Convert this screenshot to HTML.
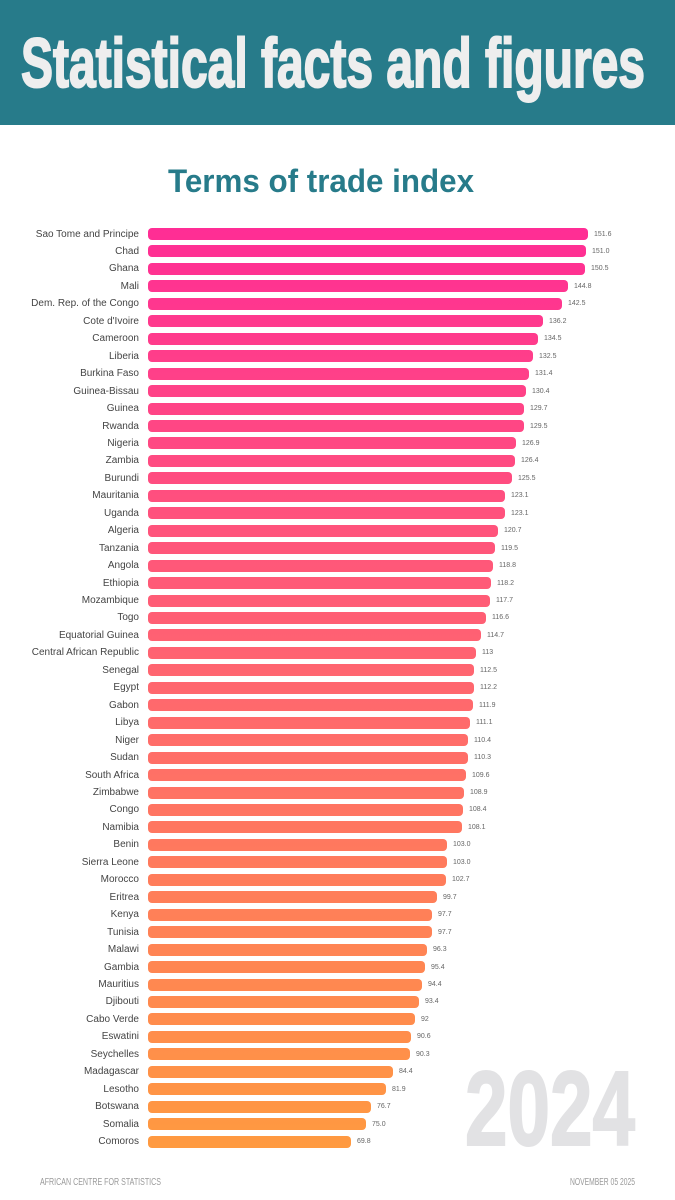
<!DOCTYPE html>
<html><head><meta charset="utf-8"><style>
*{margin:0;padding:0;box-sizing:border-box}
body{width:675px;height:1200px;background:#fff;position:relative;overflow:hidden;font-family:"Liberation Sans",sans-serif}
.hdr{position:absolute;left:0;top:0;width:675px;height:125px;background:#277b8a}
svg.ov{position:absolute;left:0;top:0}
.rows{position:absolute;left:0;top:225.3px}
.r{display:flex;align-items:center;height:17.46px}
.l{width:139px;text-align:right;font-size:10px;color:#444;margin-right:9px;white-space:nowrap}
.b{height:12px;border-radius:4px;background:linear-gradient(to bottom,#ff2d95 228px,#ff6570 670px,#ff9a40 1148px);background-attachment:fixed}
.v{font-size:7px;color:#666;margin-left:6px}
</style></head><body>
<div class="hdr"></div>
<svg class="ov" width="675" height="1200" font-family="Liberation Sans, sans-serif" font-weight="bold">
<text x="21" y="87" font-size="70" fill="#eeeeee" stroke="#eeeeee" stroke-width="2" textLength="624" lengthAdjust="spacingAndGlyphs">Statistical facts and figures</text>
<text x="168" y="192" font-size="32" fill="#277b8a" textLength="306" lengthAdjust="spacingAndGlyphs">Terms of trade index</text>
<text x="465" y="1145" font-size="106" fill="#e2e2e4" stroke="#e2e2e4" stroke-width="2" textLength="170" lengthAdjust="spacingAndGlyphs">2024</text>
<text x="40" y="1185" font-size="10" font-weight="normal" fill="#9a9a9a" textLength="121" lengthAdjust="spacingAndGlyphs">AFRICAN CENTRE FOR STATISTICS</text>
<text x="570" y="1185" font-size="10" font-weight="normal" fill="#9a9a9a" textLength="65" lengthAdjust="spacingAndGlyphs">NOVEMBER 05 2025</text>
</svg>
<div class="rows">
<div class="r"><div class="l">Sao Tome and Principe</div><div class="b" style="width:440px"></div><div class="v">151.6</div></div>
<div class="r"><div class="l">Chad</div><div class="b" style="width:438px"></div><div class="v">151.0</div></div>
<div class="r"><div class="l">Ghana</div><div class="b" style="width:437px"></div><div class="v">150.5</div></div>
<div class="r"><div class="l">Mali</div><div class="b" style="width:420px"></div><div class="v">144.8</div></div>
<div class="r"><div class="l">Dem. Rep. of the Congo</div><div class="b" style="width:414px"></div><div class="v">142.5</div></div>
<div class="r"><div class="l">Cote d'Ivoire</div><div class="b" style="width:395px"></div><div class="v">136.2</div></div>
<div class="r"><div class="l">Cameroon</div><div class="b" style="width:390px"></div><div class="v">134.5</div></div>
<div class="r"><div class="l">Liberia</div><div class="b" style="width:385px"></div><div class="v">132.5</div></div>
<div class="r"><div class="l">Burkina Faso</div><div class="b" style="width:381px"></div><div class="v">131.4</div></div>
<div class="r"><div class="l">Guinea-Bissau</div><div class="b" style="width:378px"></div><div class="v">130.4</div></div>
<div class="r"><div class="l">Guinea</div><div class="b" style="width:376px"></div><div class="v">129.7</div></div>
<div class="r"><div class="l">Rwanda</div><div class="b" style="width:376px"></div><div class="v">129.5</div></div>
<div class="r"><div class="l">Nigeria</div><div class="b" style="width:368px"></div><div class="v">126.9</div></div>
<div class="r"><div class="l">Zambia</div><div class="b" style="width:367px"></div><div class="v">126.4</div></div>
<div class="r"><div class="l">Burundi</div><div class="b" style="width:364px"></div><div class="v">125.5</div></div>
<div class="r"><div class="l">Mauritania</div><div class="b" style="width:357px"></div><div class="v">123.1</div></div>
<div class="r"><div class="l">Uganda</div><div class="b" style="width:357px"></div><div class="v">123.1</div></div>
<div class="r"><div class="l">Algeria</div><div class="b" style="width:350px"></div><div class="v">120.7</div></div>
<div class="r"><div class="l">Tanzania</div><div class="b" style="width:347px"></div><div class="v">119.5</div></div>
<div class="r"><div class="l">Angola</div><div class="b" style="width:345px"></div><div class="v">118.8</div></div>
<div class="r"><div class="l">Ethiopia</div><div class="b" style="width:343px"></div><div class="v">118.2</div></div>
<div class="r"><div class="l">Mozambique</div><div class="b" style="width:342px"></div><div class="v">117.7</div></div>
<div class="r"><div class="l">Togo</div><div class="b" style="width:338px"></div><div class="v">116.6</div></div>
<div class="r"><div class="l">Equatorial Guinea</div><div class="b" style="width:333px"></div><div class="v">114.7</div></div>
<div class="r"><div class="l">Central African Republic</div><div class="b" style="width:328px"></div><div class="v">113</div></div>
<div class="r"><div class="l">Senegal</div><div class="b" style="width:326px"></div><div class="v">112.5</div></div>
<div class="r"><div class="l">Egypt</div><div class="b" style="width:326px"></div><div class="v">112.2</div></div>
<div class="r"><div class="l">Gabon</div><div class="b" style="width:325px"></div><div class="v">111.9</div></div>
<div class="r"><div class="l">Libya</div><div class="b" style="width:322px"></div><div class="v">111.1</div></div>
<div class="r"><div class="l">Niger</div><div class="b" style="width:320px"></div><div class="v">110.4</div></div>
<div class="r"><div class="l">Sudan</div><div class="b" style="width:320px"></div><div class="v">110.3</div></div>
<div class="r"><div class="l">South Africa</div><div class="b" style="width:318px"></div><div class="v">109.6</div></div>
<div class="r"><div class="l">Zimbabwe</div><div class="b" style="width:316px"></div><div class="v">108.9</div></div>
<div class="r"><div class="l">Congo</div><div class="b" style="width:315px"></div><div class="v">108.4</div></div>
<div class="r"><div class="l">Namibia</div><div class="b" style="width:314px"></div><div class="v">108.1</div></div>
<div class="r"><div class="l">Benin</div><div class="b" style="width:299px"></div><div class="v">103.0</div></div>
<div class="r"><div class="l">Sierra Leone</div><div class="b" style="width:299px"></div><div class="v">103.0</div></div>
<div class="r"><div class="l">Morocco</div><div class="b" style="width:298px"></div><div class="v">102.7</div></div>
<div class="r"><div class="l">Eritrea</div><div class="b" style="width:289px"></div><div class="v">99.7</div></div>
<div class="r"><div class="l">Kenya</div><div class="b" style="width:284px"></div><div class="v">97.7</div></div>
<div class="r"><div class="l">Tunisia</div><div class="b" style="width:284px"></div><div class="v">97.7</div></div>
<div class="r"><div class="l">Malawi</div><div class="b" style="width:279px"></div><div class="v">96.3</div></div>
<div class="r"><div class="l">Gambia</div><div class="b" style="width:277px"></div><div class="v">95.4</div></div>
<div class="r"><div class="l">Mauritius</div><div class="b" style="width:274px"></div><div class="v">94.4</div></div>
<div class="r"><div class="l">Djibouti</div><div class="b" style="width:271px"></div><div class="v">93.4</div></div>
<div class="r"><div class="l">Cabo Verde</div><div class="b" style="width:267px"></div><div class="v">92</div></div>
<div class="r"><div class="l">Eswatini</div><div class="b" style="width:263px"></div><div class="v">90.6</div></div>
<div class="r"><div class="l">Seychelles</div><div class="b" style="width:262px"></div><div class="v">90.3</div></div>
<div class="r"><div class="l">Madagascar</div><div class="b" style="width:245px"></div><div class="v">84.4</div></div>
<div class="r"><div class="l">Lesotho</div><div class="b" style="width:238px"></div><div class="v">81.9</div></div>
<div class="r"><div class="l">Botswana</div><div class="b" style="width:223px"></div><div class="v">76.7</div></div>
<div class="r"><div class="l">Somalia</div><div class="b" style="width:218px"></div><div class="v">75.0</div></div>
<div class="r"><div class="l">Comoros</div><div class="b" style="width:203px"></div><div class="v">69.8</div></div>
</div>
</body></html>
